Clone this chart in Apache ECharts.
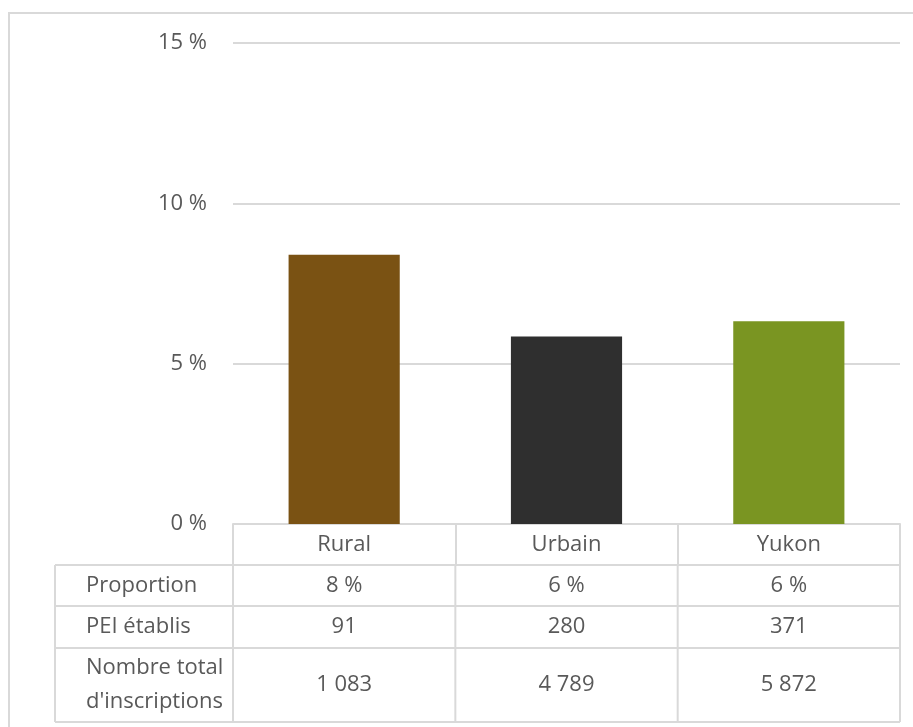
<!DOCTYPE html>
<html>
<head>
<meta charset="utf-8">
<script src="https://cdn.jsdelivr.net/npm/echarts@6/dist/echarts.min.js"></script>
<style>
  html, body { margin: 0; padding: 0; background: #fff; }
  #chart { width: 913px; height: 727px; }
</style>
</head>
<body>
<div id="chart"></div>
<script>
// données
const categories = ['Rural', 'Urbain', 'Yukon'];
const proportion = [8.4, 5.85, 6.32];
const barColors = ['#7a5213', '#2f2f2f', '#7a9522'];
const yTicks = [0, 5, 10, 15];

// tableau sous le graphique
const rowLabels = ['Proportion', 'PEI établis', "Nombre total\nd'inscriptions"];
const rowProportion = ['8 %', '6 %', '6 %'];
const rowPei = ['91', '280', '371'];
const rowTotal = ['1 083', '4 789', '5 872'];
const tableRows = [rowProportion, rowPei, rowTotal];

// mise en page
const W = 913, H = 727;
const gridLeft = 233, gridRight = 900, gridTop = 43, gridBottom = 524;
const headerH = 41;
const rowHeights = [41, 42, 74];
const tableLeft = 55;
const lineColor = '#d9d9d9';
const textColor = '#595959';
const font = '"Open Sans", "Noto Sans", sans-serif';
const fontSize = 22;

const chart = echarts.init(document.getElementById('chart'));

// construire le tableau avec des éléments graphiques
const graphics = [];
// cadre extérieur
graphics.push({
  type: 'rect',
  shape: { x: 9, y: 13, width: W, height: H },
  style: { fill: 'none', stroke: lineColor, lineWidth: 2 },
  silent: true
});

const colW = (gridRight - gridLeft) / categories.length;
let y = gridBottom + headerH;
rowHeights.forEach((h, r) => {
  // lignes horizontales
  graphics.push({ type: 'line', shape: { x1: tableLeft, y1: y, x2: gridRight, y2: y }, style: { stroke: lineColor, lineWidth: 2 } });
  // lignes verticales
  [tableLeft, gridLeft, gridLeft + colW, gridLeft + 2 * colW, gridRight].forEach(x => {
    graphics.push({ type: 'line', shape: { x1: x, y1: y, x2: x, y2: y + h }, style: { stroke: lineColor, lineWidth: 2 } });
  });
  // étiquette de ligne
  graphics.push({
    type: 'text', x: tableLeft + 31, y: y + h / 2,
    style: { text: rowLabels[r], fill: textColor, font: fontSize + 'px ' + font, verticalAlign: 'middle', align: 'left', lineHeight: 34 }
  });
  // valeurs
  tableRows[r].forEach((v, i) => {
    graphics.push({
      type: 'text', x: gridLeft + (i + 0.5) * colW, y: y + h / 2,
      style: { text: v, fill: textColor, font: fontSize + 'px ' + font, verticalAlign: 'middle', align: 'center' }
    });
  });
  y += h;
});
graphics.push({ type: 'line', shape: { x1: tableLeft, y1: y, x2: gridRight, y2: y }, style: { stroke: lineColor, lineWidth: 2 } });

const option = {
  backgroundColor: '#fff',
  animation: false,
  textStyle: { fontFamily: font },
  grid: { left: gridLeft, right: W - gridRight, top: gridTop, bottom: H - gridBottom },
  xAxis: {
    type: 'category',
    data: categories,
    axisLine: { lineStyle: { color: lineColor, width: 2 } },
    axisTick: { show: true, length: headerH, lineStyle: { color: lineColor, width: 2 } },
    axisLabel: { color: textColor, fontSize: fontSize, margin: 10 }
  },
  yAxis: {
    type: 'value',
    min: yTicks[0],
    max: yTicks[yTicks.length - 1],
    interval: 5,
    axisLine: { show: false },
    axisTick: { show: false },
    axisLabel: { color: textColor, fontSize: fontSize, margin: 26, formatter: '{value} %' },
    splitLine: { lineStyle: { color: lineColor, width: 2 } }
  },
  series: [{
    type: 'bar',
    barWidth: '50%',
    data: proportion.map((v, i) => ({ value: v, itemStyle: { color: barColors[i] } }))
  }],
  graphic: graphics
};

chart.setOption(option);
</script>
</body>
</html>
